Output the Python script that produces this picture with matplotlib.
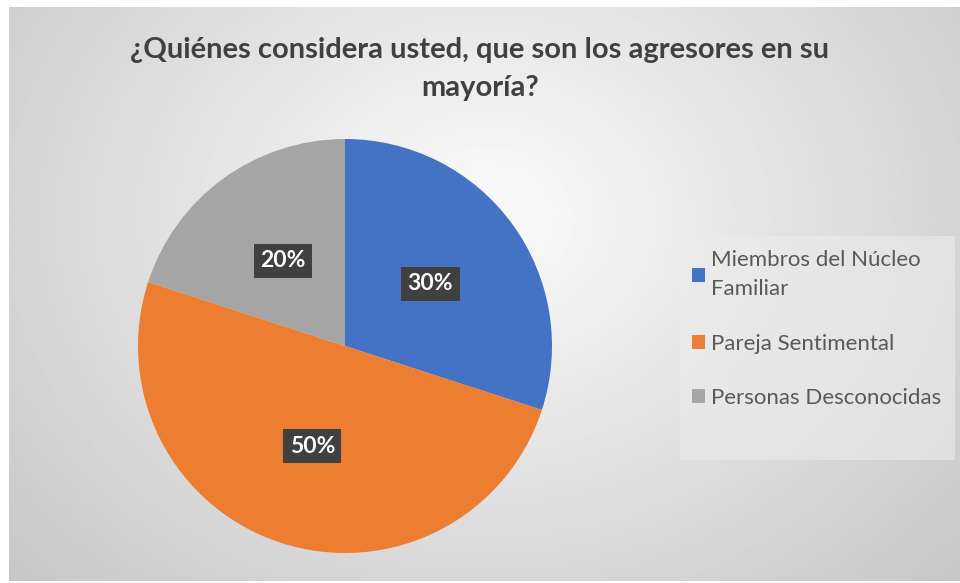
import numpy as np
import matplotlib.pyplot as plt
from matplotlib.patches import Rectangle

categories = ['Miembros del Núcleo\nFamiliar', 'Pareja Sentimental', 'Personas Desconocidas']
values = [30, 50, 20]
colors = ['#4472C4', '#ED7D31', '#A5A5A5']
title = '¿Quiénes considera usted, que son los agresores en su\nmayoría?'

plt.rcParams['font.family'] = ['Lato', 'DejaVu Sans']

W, H = 960, 583
fig = plt.figure(figsize=(W / 100, H / 100), dpi=100)
fig.patch.set_facecolor('white')

# radial gradient background of the chart area
bg = fig.add_axes([9 / W, 2 / H, (W - 9) / W, (H - 9) / H])
yy, xx = np.mgrid[0:300, 0:500]
d = np.sqrt(((xx - 250) / 330.0) ** 2 + ((yy - 110) / 270.0) ** 2)
shade = 0.985 - 0.2 * np.clip(d, 0, 1.2)
bg.imshow(shade, cmap='gray', vmin=0, vmax=1, aspect='auto', interpolation='bilinear')
bg.set_axis_off()

# pie
cx, cy, r = 345, 346, 207
ax = fig.add_axes([(cx - r) / W, (H - cy - r) / H, 2 * r / W, 2 * r / H])
wedges, texts, autotexts = ax.pie(
    values, colors=colors, startangle=90, counterclock=False,
    autopct='%1.0f%%', pctdistance=0.51,
    wedgeprops=dict(linewidth=0),
    textprops=dict(color='white', fontsize=16.5, fontweight='bold'))
for t in autotexts:
    t.set_bbox(dict(boxstyle='square,pad=0.28', facecolor='#404040', edgecolor='none'))
ax.set_aspect('equal')
ax.set_xlim(-1, 1)
ax.set_ylim(-1, 1)

fig.text(480 / W, 1 - 69 / H, title, ha='center', va='center', fontsize=21,
         fontweight='bold', color='#404040', linespacing=1.55)

# legend box
fig.patches.append(Rectangle((680 / W, 1 - 460 / H), 275 / W, 224 / H,
                             transform=fig.transFigure, facecolor='#ececec',
                             edgecolor='none', alpha=0.6, zorder=0))

leg = fig.legend(wedges, categories, loc='upper left',
                 bbox_to_anchor=(685 / W, 1 - 243 / H), frameon=False,
                 fontsize=16, labelspacing=1.55, handlelength=0.6, handleheight=0.6,
                 handletextpad=0.25, borderpad=0.3, borderaxespad=0,
                 labelcolor='#595959')
for t in leg.get_texts():
    t.set_linespacing(1.6)

fig.savefig('out.png', dpi=100)
